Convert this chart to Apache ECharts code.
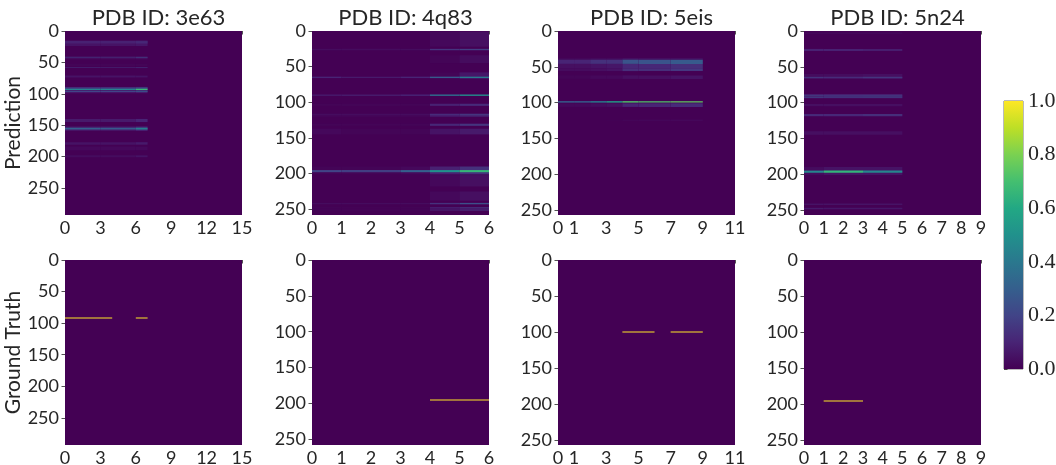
<!DOCTYPE html>
<html><head><meta charset="utf-8">
<style>html,body{margin:0;padding:0;background:#fff}#c{width:1056px;height:465px}</style>
<script src="https://cdn.jsdelivr.net/npm/echarts@6/dist/echarts.min.js"></script>
</head><body><div id="c"></div>
<script>
const titles = ['PDB ID: 3e63','PDB ID: 4q83','PDB ID: 5eis','PDB ID: 5n24'];
const rowLabels = ['Prediction','Ground Truth'];
const colCounts = [15,6,11,9];
const rowCounts = [293,258,257,257];
const xTicks = [[0,3,6,9,12,15],[0,1,2,3,4,5,6],[0,1,3,5,7,9,11],[0,1,2,3,4,5,6,7,8,9]];
const yTicks = [0,50,100,150,200,250];
const viridis = ['#440154','#482475','#414487','#355f8d','#2a788e','#21918c','#22a884','#44bf70','#7ad151','#bddf26','#fde725'];

// column group edges per protein
const edges3e63 = [0,3,6,7];
const edges4q83 = [0,1,3,4,5,6];
const edges5eis = [0,1,2,3,4,5,7,9];
const edges5n24 = [0,1,3,5];

// [first row, last row, value per column group]
const pred3e63 = [
 [15,24,[.05,.05,.06]],[16,20,[.09,.09,.11]],[40,45,[.03,.03,.04]],[42,43,[.17,.15,.2]],
 [52,56,[.01,.01,.01]],[58,59,[.16,.14,.16]],[71,74,[.05,.05,.05]],[89,99,[.06,.06,.08]],[90,92,[.2,.2,.25]],
 [92,94,[.45,.45,.68]],[95,97,[.2,.2,.25]],[140,145,[.07,.07,.1]],[152,159,[.07,.07,.1]],[154,157,[.3,.28,.42]],
 [177,181,[.05,.05,.07]],[184,190,[.02,.02,.02]],[198,201,[.03,.03,.05]]
];
const pred4q83 = [
 [1,22,[0,0,0,.02,.04]],[25,27,[.03,.03,.03,.15,.18]],[34,45,[0,0,0,.01,.03]],[58,67,[0,0,0,.01,.06]],
 [64,66,[.1,.07,.1,.28,.4]],[89,91,[.07,.07,.1,.36,.48]],[102,105,[.01,.01,.01,.09,.12]],[116,118,[.03,.03,.03,.12,.15]],
 [118,120,[.02,.02,.02,.1,.13]],[130,133,[.01,.01,.01,.11,.15]],[137,145,[.02,.01,.01,.05,.07]],[190,201,[.01,.01,.02,.09,.14]],
 [195,198,[.2,.18,.3,.5,.66]],[202,218,[0,0,0,.02,.04]],[225,238,[0,0,0,.02,.04]],[241,243,[.03,.03,.03,.14,.24]],
 [247,249,[.01,.01,.01,.09,.14]],[250,252,[.01,.01,.01,.08,.12]]
];
const pred5eis = [
 [38,40,[.02,.02,.03,.03,.05,.05,.05]],[40,46,[.1,.1,.14,.14,.26,.26,.28]],[46,52,[.04,.04,.05,.06,.11,.11,.13]],
 [52,56,[.03,.03,.04,.05,.13,.13,.16]],[62,67,[.01,.01,.02,.02,.04,.04,.05]],
 [98,100,[.3,.3,.42,.55,.72,.72,.75]],[101,106,[.02,.02,.03,.04,.1,.1,.12]],[124,125,[0,0,0,.01,.03,.03,.04]]
];
const pred5n24 = [
 [2,4,[.02,.02,.02]],[25,28,[.09,.09,.08]],[60,67,[.03,.03,.04]],[64,66,[.14,.12,.15]],[88,94,[.08,.08,.08]],
 [90,91,[.22,.2,.22]],[92,93,[.22,.2,.22]],[102,105,[.04,.04,.04]],[116,119,[.12,.11,.13]],
 [140,145,[.04,.04,.04]],[190,201,[.03,.05,.05]],[195,198,[.45,.65,.45]],[241,243,[.05,.05,.05]],[247,249,[.07,.06,.06]]
];
// [column start, column end, row]
const truth3e63 = [[0,4,92],[6,7,92]];
const truth4q83 = [[4,6,195]];
const truth5eis = [[4,6,99],[7,9,99]];
const truth5n24 = [[1,3,195]];

const preds = [[edges3e63,pred3e63],[edges4q83,pred4q83],[edges5eis,pred5eis],[edges5n24,pred5n24]];
const truths = [truth3e63,truth4q83,truth5eis,truth5n24];

function vir(v){
  v=Math.max(0,Math.min(1,v))*(viridis.length-1);
  const i=Math.min(viridis.length-2,Math.floor(v)),t=v-i;
  const a=echarts.color.parse(viridis[i]),b=echarts.color.parse(viridis[i+1]);
  return 'rgb('+[0,1,2].map(k=>Math.round(a[k]+(b[k]-a[k])*t)).join(',')+')';
}
function predCells(p){
  const [edges,rows]=preds[p], n=colCounts[p], out=[[0,n,0,rowCounts[p],0]];
  rows.forEach(r=>r[2].forEach((v,g)=>{ if(v>0) out.push([edges[g],edges[g+1],r[0],r[1],v]); }));
  return out;
}
function truthCells(p){
  const out=[[0,colCounts[p],0,rowCounts[p],0]];
  truths[p].forEach(t=>out.push([t[0],t[1],t[2],t[2]+1,1]));
  return out;
}
const render=(params,api)=>{
  const a=api.coord([api.value(0),api.value(2)]), b=api.coord([api.value(1),api.value(3)]);
  return {type:'rect',shape:{x:a[0],y:a[1],width:b[0]-a[0],height:b[1]-a[1]},
    style:{fill:vir(api.value(4))}};
};
// a one-row truth line is thinner than a pixel: the reference shows it as a soft 2px band
const renderTruth=(params,api)=>{
  const a=api.coord([api.value(0),api.value(2)]), b=api.coord([api.value(1),api.value(3)]);
  const v=api.value(4);
  if(!v) return {type:'rect',shape:{x:a[0],y:a[1],width:b[0]-a[0],height:b[1]-a[1]},style:{fill:vir(0)}};
  return {type:'rect',shape:{x:a[0],y:Math.round((a[1]+b[1])/2-1),width:b[0]-a[0],height:2},style:{fill:vir(v),opacity:.5}};
};
const font='Lato';
const panelX=[[65,242],[312,489],[558,735],[804,981]];
const rowY=[[31,215],[260,445]];
const grid=[],xAxis=[],yAxis=[],series=[],title=[];
const tick={show:true,length:3.5,lineStyle:{color:'#262626',width:.8}};
for(let r=0;r<2;r++)for(let p=0;p<4;p++){
  const i=grid.length;
  grid.push({left:panelX[p][0],width:panelX[p][1]-panelX[p][0],top:rowY[r][0],height:rowY[r][1]-rowY[r][0],outerBoundsMode:'none'});
  xAxis.push({type:'value',gridIndex:i,min:0,max:colCounts[p],splitLine:{show:false},axisLine:{show:false},
    axisTick:{...tick,customValues:xTicks[p]},
    axisLabel:{customValues:xTicks[p],fontFamily:font,fontSize:18,color:'#262626',margin:4,hideOverlap:false}});
  yAxis.push({type:'value',gridIndex:i,inverse:true,min:0,max:rowCounts[p],splitLine:{show:false},axisLine:{show:false},
    axisTick:{...tick,customValues:yTicks},
    axisLabel:{customValues:yTicks,fontFamily:font,fontSize:18,color:'#262626',margin:6},
    name:p===0?rowLabels[r]:'',nameLocation:'middle',nameGap:30,nameRotate:90,
    nameTextStyle:{fontFamily:font,fontSize:21,color:'#262626'}});
  series.push({type:'custom',xAxisIndex:i,yAxisIndex:i,coordinateSystem:'cartesian2d',silent:true,animation:false,
    clip:true,renderItem:r===0?render:renderTruth,encode:{x:[0,1],y:[2,3]},data:r===0?predCells(p):truthCells(p)});
  if(r===0)title.push({text:titles[p],left:(panelX[p][0]+panelX[p][1])/2,top:2,textAlign:'center',
    textStyle:{fontFamily:font,fontSize:22,fontWeight:'normal',color:'#262626'}});
}
// colour bar
const ci=grid.length;
grid.push({left:1004,width:19,top:101,height:268,outerBoundsMode:'none',show:true,borderColor:'#777',borderWidth:1,backgroundColor:'transparent'});
xAxis.push({type:'value',gridIndex:ci,min:0,max:1,show:false});
yAxis.push({type:'value',gridIndex:ci,position:'right',min:0,max:1,interval:.2,splitLine:{show:false},axisLine:{show:false},
  axisTick:{show:true,length:3.5,lineStyle:{color:'#262626',width:.8}},
  axisLabel:{formatter:v=>v.toFixed(1),fontFamily:'Liberation Serif',fontSize:22,color:'#262626',margin:5}});
series.push({type:'custom',xAxisIndex:ci,yAxisIndex:ci,coordinateSystem:'cartesian2d',silent:true,animation:false,
  renderItem:(params,api)=>{
    const a=api.coord([0,1]),b=api.coord([1,0]);
    return {type:'rect',shape:{x:a[0],y:a[1],width:b[0]-a[0],height:b[1]-a[1]},
      style:{fill:new echarts.graphic.LinearGradient(0,1,0,0,viridis.map((c,k)=>({offset:k/(viridis.length-1),color:c})))}};
  },data:[[0,0]]});
const chart=echarts.init(document.getElementById('c'),null,{renderer:'canvas'});
chart.setOption({animation:false,backgroundColor:'#fff',title,grid,xAxis,yAxis,series});
</script></body></html>
